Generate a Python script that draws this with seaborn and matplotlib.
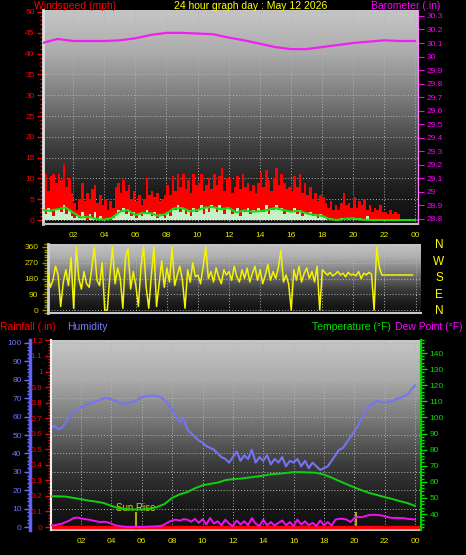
import numpy as np
import matplotlib
matplotlib.use("Agg")
import matplotlib.pyplot as plt
import seaborn as sns
from matplotlib.colors import LinearSegmentedColormap
from matplotlib.ticker import MultipleLocator

# ---- data ----
hour_ticks = [2, 4, 6, 8, 10, 12, 14, 16, 18, 20, 22, 24]
hour_labels = ['02', '04', '06', '08', '10', '12', '14', '16', '18', '20', '22', '00']

# wind gust (mph), 10 minute steps
gust_mph = [8, 11, 7, 10.5, 11, 9,
            11, 9.5, 13.5, 8, 10, 6.5,
            4, 2.5, 5, 9, 4.5, 6.5,
            5, 7.5, 8.5, 4, 6, 3.5,
            5, 2.5, 4.5, 3, 8, 9,
            6.5, 9.5, 7, 8.5, 5, 7,
            4.5, 6, 3.5, 5, 10, 6,
            7, 5.5, 6.5, 4.5, 5, 6,
            8.5, 6, 10.5, 7, 11, 8,
            11, 7.5, 9.5, 6.5, 11, 8.5,
            9, 11, 7, 8.5, 10, 7.5,
            11, 8.5, 10.5, 12.5, 7, 10,
            10, 6.5, 8, 10.5, 7.5, 11,
            8, 9, 7, 8.5, 6.5, 9,
            11.5, 8, 12, 9.5, 7, 10,
            12.5, 8.5, 11, 9, 7.5, 8,
            7, 10.5, 8, 11, 6.5, 9,
            6, 8, 5, 6.5, 4.5, 6,
            5.5, 4, 3, 4.5, 2.5, 3.5,
            2.5, 4, 6.5, 3.5, 4, 3,
            5.5, 3, 4.5, 3.5, 5, 2.5,
            3.5, 2, 3, 2.5, 3.5, 2,
            2, 1.5, 2.5, 1.5, 2, 1.5,
            0.3, 0.3, 0.3, 0.3, 0.3, 0.3]

# wind speed (mph), 10 minute steps
speed_mph = [2.5, 1.5, 3, 2, 1, 2.5,
             3, 2, 3.5, 1.5, 2.5, 1,
             0.5, 1, 0.5, 2, 1, 0,
             1.5, 0.5, 2, 0.5, 1, 0,
             0, 0.5, 0, 0.5, 1.5, 2.5,
             2, 3, 1.5, 2.5, 1, 2,
             0.5, 1.5, 1, 2, 2.5, 1.5,
             1, 2, 0.5, 1.5, 1, 0.5,
             2, 1, 3, 2.5, 3.5, 2,
             3, 1.5, 2.5, 1, 3, 2,
             2.5, 3.5, 1.5, 3, 2, 3.5,
             3, 2, 3.5, 2.5, 1.5, 3,
             3, 1.5, 2, 3, 1, 2.5,
             2, 3, 1.5, 2.5, 2, 3,
             2.5, 2, 3.5, 1.5, 3, 2.5,
             3.5, 2.5, 3, 1.5, 2.5, 2,
             2, 3, 1.5, 2.5, 1, 2,
             1.5, 2, 1, 1.5, 0.5, 1.5,
             1, 0.5, 0, 0.5, 0, 0,
             0, 0.5, 0, 0, 0.5, 0,
             0.5, 0, 0.5, 0, 0, 1,
             0, 0, 0, 0, 0, 0,
             0, 0, 0, 0, 0, 0,
             0, 0, 0, 0, 0, 0]

# average wind speed (mph), half hourly
avg_mph = [2.4, 2.2, 2.6, 3.0, 1.8, 0.6, 0.8, 0.2, 0.1, 0.5, 2.0, 2.4,
           1.2, 1.7, 1.6, 1.0, 1.5, 2.8, 2.9, 2.1, 2.4, 3.0, 3.1, 2.6,
           2.9, 1.8, 2.3, 2.0, 2.1, 2.4, 2.9, 2.4, 2.0, 2.2, 1.6, 1.2,
           1.0, 0.2, 0.0, 0.3, 0.4, 0.1, 0.0, 0.0, 0.0, 0.0, 0.0, 0.0, 0.0]

# barometer (in), hourly
baro_in = [30.10, 30.13, 30.115, 30.115, 30.115, 30.12, 30.135, 30.16, 30.175,
           30.175, 30.17, 30.165, 30.14, 30.12, 30.095, 30.07, 30.055, 30.055,
           30.07, 30.085, 30.10, 30.11, 30.12, 30.115, 30.115]
baro_ticks = [28.8, 28.9, 29.0, 29.1, 29.2, 29.3, 29.4, 29.5, 29.6, 29.7, 29.8,
              29.9, 30.0, 30.1, 30.2, 30.3]
baro_labels = ['28.8', '28.9', '29', '29.1', '29.2', '29.3', '29.4', '29.5', '29.6',
               '29.7', '29.8', '29.9', '30', '30.1', '30.2', '30.3']

# wind direction (deg), 10 minute steps
wdir_deg = [200, 150, 210, 130, 170, 250,
            200, 20, 160, 230, 140, 300,
            10, 360, 180, 120, 220, 150,
            130, 240, 360, 170, 140, 270,
            0, 0, 200, 360, 150, 240,
            180, 10, 300, 350, 120, 220,
            140, 20, 250, 360, 130, 10,
            200, 360, 20, 150, 280, 130,
            240, 160, 360, 140, 200, 250,
            170, 10, 230, 160, 270, 190,
            200, 150, 250, 360, 180, 220,
            160, 240, 190, 150, 230, 200,
            220, 170, 250, 190, 160, 230,
            180, 240, 160, 210, 250, 170,
            230, 150, 200, 260, 170, 220,
            180, 240, 340, 160, 200, 150,
            0, 230, 170, 250, 160, 210,
            240, 180, 220, 160, 250, 0,
            230, 215, 200, 215, 195, 205,
            220, 200, 210, 190, 215, 200,
            205, 195, 220, 180, 210, 200,
            215, 205, 0, 360, 245, 200,
            200, 200, 200, 200, 200, 200,
            200, 200, 200, 200, 200, 200]
dir_ticks = [0, 90, 180, 270, 360]
compass = ['N', 'W', 'S', 'E', 'N']

# humidity (%), 15 minute steps
hum_pct = [54, 55, 53, 54, 57, 60, 63, 64, 65, 66, 67, 67.5,
           68.5, 69, 70, 70, 69.5, 68.5, 67.5, 67, 67, 67.5, 68, 69.5,
           70.5, 71, 71, 71.5, 71, 70.5, 69, 66.5, 64, 60, 57, 59,
           53, 51, 49, 47, 46, 44, 43, 42, 40, 38, 37, 35,
           38, 41, 36, 39, 37, 42, 35, 38, 36, 39, 34, 37,
           35, 38, 33, 36, 35, 37, 33, 36, 32, 35, 33, 31,
           32, 33, 36, 39, 42, 43, 46, 49, 52, 55, 60, 63,
           66, 67, 68.5, 68, 67.5, 68, 68.5, 69.5, 70, 71, 72, 74.5, 77]

# temperature (F), half hourly
temp_f = [51, 51, 50.8, 50, 49.2, 48.3, 47.7, 46.8, 45, 43.6, 43, 42.8, 42.8,
          43.2, 44.3, 46.2, 50, 52.2, 53.6, 56, 57.8, 58.7, 59.5, 61, 61.7,
          62, 62.6, 63.2, 63.8, 64.7, 65, 65.5, 66, 66, 65.8, 65.6, 64.5,
          62.6, 60.5, 58.5, 56.5, 54.7, 53, 51.8, 50.5, 49.3, 48, 46.8, 45]

# dew point (F), 15 minute steps
dew_f = [33, 33, 33.5, 34, 35, 36, 37.5, 37.8, 37.2, 36.8, 36.5, 36,
         35.5, 35, 35.2, 34.8, 34, 33, 32.6, 32.2, 32, 32, 32, 32,
         32, 32, 32.2, 32.2, 32.4, 32.6, 33.5, 35, 36, 36.5, 35.8, 36.8,
         36.5, 35.2, 37, 34.5, 36.8, 33.5, 37.5, 34, 35.5, 33, 36.5, 34,
         32.5, 36, 33.5, 35.5, 33, 37.5, 34, 32.5, 36.5, 33, 35, 32.8,
         34.5, 36, 33, 35, 32.5, 36.5, 33.5, 35.5, 33, 34.5, 32.5, 36,
         33, 35, 32.8, 36.5, 37, 37, 36.5, 35, 37.5, 38.2, 38, 38.8,
         39.4, 39.5, 39.4, 39.2, 38.5, 38, 37.5, 37.6, 37.5, 37.4, 37, 36.8, 36.5]

rain_hours = [0, 24.4]
rain_in = [0.0, 0.0]
rain_ticks = [0, 0.1, 0.2, 0.3, 0.4, 0.5, 0.6, 0.7, 0.8, 0.9, 1.0, 1.1, 1.2]
rain_labels = ['0', '0.1', '0.2', '0.3', '0.4', '0.5', '0.6', '0.7', '0.8', '0.9', '1', '1.1', '1.2']

sun_rise = 5.62
sun_set = 20.1

t10 = np.arange(len(gust_mph)) / 6
t15 = np.arange(len(hum_pct)) / 4
t30 = np.arange(len(avg_mph)) / 2
t60 = np.arange(len(baro_in))

# ---- style ----
sns.set_style("dark")
plt.rcParams['font.family'] = ['Liberation Sans', 'DejaVu Sans']
plt.rcParams['axes.axisbelow'] = True

W, H = 466, 555
fig = plt.figure(figsize=(W / 100, H / 100), dpi=100, facecolor='black')

bg = LinearSegmentedColormap.from_list(
    'bg', [(0, '#0e0e0e'), (0.15, '#1c1c1c'), (0.35, '#3c3c3c'),
           (0.58, '#787878'), (0.8, '#acacac'), (1, '#c6c6c6')])
grid_kw = dict(color='#b4b4b4', linestyle=(0, (1, 2)), linewidth=0.7)


def paint_bg(ax, xl, yl):
    grad = np.linspace(0, 1, 256).reshape(-1, 1)
    ax.imshow(grad, extent=[xl[0], xl[1], yl[0], yl[1]], origin='lower',
              aspect='auto', cmap=bg, zorder=-2, interpolation='bilinear')
    ax.set_xlim(*xl)
    ax.set_ylim(*yl)


def rect(l, t, r, b):
    return [l / W, 1 - b / H, (r - l) / W, (b - t) / H]


# ---- top panel: wind speed + barometer ----
ax_w = fig.add_axes(rect(43, 10, 418, 224))
paint_bg(ax_w, (0.06, 24.18), (-0.96, 50.48))
tw = np.append(t10, 24.2)
ax_w.fill_between(tw, 0, np.append(gust_mph, gust_mph[-1]), step='post',
                  color='#ff0000', lw=0, zorder=2)
ax_w.fill_between(tw, 0, np.append(speed_mph, speed_mph[-1]), step='post',
                  color='#c8f0c8', lw=0, zorder=3)
sns.lineplot(x=t30, y=avg_mph, ax=ax_w, color='#10e010', lw=1.5, zorder=4)
ax_w.set_xticks(hour_ticks, hour_labels)
ax_w.yaxis.set_major_locator(MultipleLocator(5))
ax_w.yaxis.set_minor_locator(MultipleLocator(1))
ax_w.tick_params(axis='x', length=0, labelcolor='#e8e800', labelsize=6, pad=6)
ax_w.tick_params(axis='y', which='both', left=True, colors='#ff0000',
                 labelsize=6, length=4, width=1, pad=2)
ax_w.tick_params(axis='y', which='minor', length=2)
ax_w.grid(True, **grid_kw)
ax_w.spines['top'].set_visible(False)
ax_w.spines['left'].set_color('#e0e0e0')
ax_w.spines['left'].set_linewidth(2)
ax_w.spines['bottom'].set_color('#c0c0c0')
ax_w.spines['bottom'].set_linewidth(1.5)

ax_b = ax_w.twinx()
ax_b.set_ylim(28.763, 30.344)
sns.lineplot(x=t60, y=baro_in, ax=ax_b, color='#f020f0', lw=1.6)
ax_b.set_yticks(baro_ticks, baro_labels)
ax_b.tick_params(axis='y', right=True, colors='#ff00ff', labelsize=6, length=4, pad=2)
for s in ['top', 'left', 'bottom']:
    ax_b.spines[s].set_visible(False)
ax_b.spines['right'].set_color('#ff80ff')
ax_b.spines['right'].set_linestyle((0, (2, 1)))
for a in (ax_w, ax_b):
    a.set_xlabel('')
    a.set_ylabel('')

# ---- wind direction panel ----
ax_d = fig.add_axes(rect(48, 244, 421, 313))
paint_bg(ax_d, (0.35, 24.35), (-17, 377))
sns.lineplot(x=t10, y=wdir_deg, ax=ax_d, color='#f4f400', lw=1.1, zorder=3)
ax_d.set_xticks(hour_ticks, [])
ax_d.set_yticks(dir_ticks)
ax_d.yaxis.set_minor_locator(MultipleLocator(15))
ax_d.tick_params(axis='x', length=0)
ax_d.tick_params(axis='y', which='both', left=True, color='#909000',
                 labelcolor='#d8d800', labelsize=6, length=4, width=1, pad=3)
ax_d.tick_params(axis='y', which='minor', length=3)
ax_d.grid(True, **grid_kw)
for s in ['top', 'right']:
    ax_d.spines[s].set_visible(False)
ax_d.spines['left'].set_color('#d0d0d0')
ax_d.spines['left'].set_linewidth(2)
ax_d.spines['bottom'].set_color('#c8c8c8')
ax_d.spines['bottom'].set_linewidth(1.5)
ax_d.set_xlabel('')
ax_d.set_ylabel('')
for lab, yy in zip(compass, [245, 262, 278, 295, 311]):
    fig.text(439 / W, 1 - yy / H, lab, color='#ffff00', fontsize=8.5,
             ha='center', va='center')

# ---- bottom panel: rain, humidity, temperature, dew point ----
ax_h = fig.add_axes(rect(51, 340, 421, 530))
paint_bg(ax_h, (0.02, 24.39), (-1.6, 101.6))
sns.lineplot(x=t15, y=hum_pct, ax=ax_h, color='#7474f4', lw=1.5, zorder=3)
ax_h.set_xticks(hour_ticks, hour_labels)
ax_h.yaxis.set_major_locator(MultipleLocator(10))
ax_h.yaxis.set_minor_locator(MultipleLocator(2))
ax_h.tick_params(axis='x', length=0, labelcolor='#e8e800', labelsize=6, pad=6)
ax_h.tick_params(axis='y', which='both', left=True, colors='#7070ff',
                 labelsize=6, length=4, width=1, pad=2)
ax_h.tick_params(axis='y', which='minor', length=2)
ax_h.grid(True, **grid_kw)
ax_h.spines['left'].set_position(('axes', -21 / 370))
ax_h.spines['left'].set_color('#6060ff')
ax_h.spines['left'].set_linewidth(2.5)
ax_h.spines['bottom'].set_color('#c0c0c0')
ax_h.spines['bottom'].set_linewidth(1.5)
for s in ['top', 'right']:
    ax_h.spines[s].set_visible(False)
ax_h.vlines([sun_rise, sun_set], -1.6, 8.2, color='#b8a800', lw=1.5, zorder=4)
ax_h.text(sun_rise, 10.3, 'Sun Rise', color='#d8d000', fontsize=7,
          ha='center', va='center', zorder=5)

ax_r = ax_h.twinx()
ax_r.set_ylim(-0.019, 1.2026)
sns.lineplot(x=rain_hours, y=rain_in, ax=ax_r, color='#ff0000', lw=2.4)
ax_r.yaxis.tick_left()
ax_r.set_yticks(rain_ticks, rain_labels)
ax_r.yaxis.set_minor_locator(MultipleLocator(0.02))
ax_r.tick_params(axis='y', which='both', left=True, right=False, colors='#ff0000',
                 labelsize=6, length=4, width=1, pad=2)
ax_r.tick_params(axis='y', which='minor', length=2)
for s in ['top', 'right', 'bottom']:
    ax_r.spines[s].set_visible(False)
ax_r.spines['left'].set_visible(True)
ax_r.spines['left'].set_color('#f0f0f0')
ax_r.spines['left'].set_linewidth(1.5)

ax_t = ax_h.twinx()
ax_t.set_ylim(30.06, 148.1)
sns.lineplot(x=t30, y=temp_f, ax=ax_t, color='#10d010', lw=1.4)
sns.lineplot(x=t15, y=dew_f, ax=ax_t, color='#f010f0', lw=1.4)
ax_t.yaxis.set_major_locator(MultipleLocator(10))
ax_t.yaxis.set_minor_locator(MultipleLocator(2))
ax_t.set_yticks([40, 50, 60, 70, 80, 90, 100, 110, 120, 130, 140])
ax_t.tick_params(axis='y', which='both', right=True, colors='#00e000',
                 labelsize=6, length=4, width=1, pad=2)
ax_t.tick_params(axis='y', which='minor', length=2)
for s in ['top', 'left', 'bottom']:
    ax_t.spines[s].set_visible(False)
ax_t.spines['right'].set_color('#00d000')
ax_t.spines['right'].set_linewidth(1.5)
for a in (ax_h, ax_r, ax_t):
    a.set_xlabel('')
    a.set_ylabel('')

# ---- titles ----
ft = 7.5
fig.text(34 / W, 1 - 6 / H, 'Windspeed (mph)', color='#ff0000', fontsize=ft, ha='left', va='center')
fig.text(251 / W, 1 - 6 / H, '24 hour graph day : May 12 2026', color='#ffff00', fontsize=ft, ha='center', va='center')
fig.text(440 / W, 1 - 6 / H, 'Barometer (.in)', color='#ff00ff', fontsize=ft, ha='right', va='center')
fig.text(0 / W, 1 - 327 / H, 'Rainfall (.in)', color='#ff0000', fontsize=ft, ha='left', va='center')
fig.text(67 / W, 1 - 327 / H, 'Humidity', color='#7878ff', fontsize=ft, ha='left', va='center')
fig.text(391 / W, 1 - 327 / H, 'Temperature (°F)', color='#00e000', fontsize=ft, ha='right', va='center')
fig.text(395 / W, 1 - 327 / H, 'Dew Point (°F)', color='#ff00ff', fontsize=ft, ha='left', va='center')

fig.savefig('out.png', dpi=100, facecolor='black')
